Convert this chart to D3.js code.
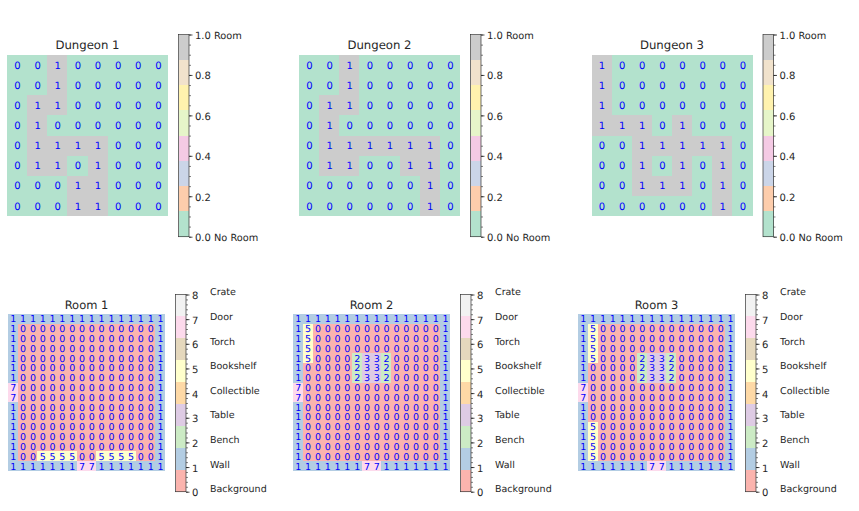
<!DOCTYPE html>
<html><head><meta charset="utf-8">
<script src="https://cdn.jsdelivr.net/npm/d3@7"></script>
<style>html,body{margin:0;padding:0;background:#fff}svg{display:block}text{font-family:"DejaVu Sans";fill:#262626;text-rendering:geometricPrecision}</style>
</head><body><div id="c"></div>
<script>
const dungeonTitles = ["Dungeon 1","Dungeon 2","Dungeon 3"];
const roomTitles = ["Room 1","Room 2","Room 3"];
const dungeon1 = ["00100000","00100000","01100000","01000000","01111000","01101000","00011000","00011000"];
const dungeon2 = ["00100000","00100000","01100000","01000000","01111110","01100110","00000010","00000010"];
const dungeon3 = ["10000000","10000000","10000000","11101000","00111110","00101010","00111010","00000010"];
const room1 = ["1111111111111111","1000000000000001","1000000000000001","1000000000000001","1000000000000001","1000000000000001","1000000000000001","7000000000000001","7000000000000001","1000000000000001","1000000000000001","1000000000000001","1000000000000001","1000000000000001","1005555005555001","1111111771111111"];
const room2 = ["1111111111111111","1500000000000001","1500000000000001","1500000000000001","1500002332000001","1000002332000001","1000002332000001","7000000000000001","7000000000000001","1000000000000001","1000000000000001","1000000000000001","1000000000000001","1000000000000001","1000000000000001","1111111771111111"];
const room3 = ["1111111111111111","1500000000000001","1500000000000001","1500000000000001","1500002332000001","1000002332000001","1000002332000001","7000000000000001","7000000000000001","1000000000000001","1000000000000001","1500000000000001","1500000000000001","1500000000000001","1500000000000001","1111111771111111"];
const dungeonColors = ["#b3e2cd","#fdcdac","#cbd5e8","#f4cae4","#e6f5c9","#fff2ae","#f1e2cc","#cccccc"];
const roomColors = ["#fbb4ae","#b3cde3","#ccebc5","#decbe4","#fed9a6","#ffffcc","#e5d8bd","#fddaec","#f2f2f2"];
const dungeonTicks = [0,0.2,0.4,0.6,0.8,1];
const dungeonMinor = d3.range(0,1.0001,0.05);
const dungeonLabels = [{v:0,t:"No Room"},{v:1,t:"Room"}];
const roomTicks = [0,1,2,3,4,5,6,7,8];
const roomMinor = d3.range(0,8.001,0.2);
const roomLabels = ["Background","Wall","Bench","Table","Collectible","Bookshelf","Torch","Door","Crate"];

const svg = d3.select("#c").append("svg").attr("width",859).attr("height",511);

function panel(o){
  const n = o.grid.length;
  const x = d3.scaleBand().domain(d3.range(n)).range([o.x, o.x+o.size]);
  const y = d3.scaleBand().domain(d3.range(n)).range([o.y, o.y+o.size]);
  const nc = o.colors.length;
  const g = svg.append("g");
  const cells = o.grid.flatMap((r,i)=>[...r].map((v,j)=>({i,j,v:+v})));
  g.selectAll("rect").data(cells).join("rect")
    .attr("x",d=>x(d.j)).attr("y",d=>y(d.i))
    .attr("width",x.bandwidth()).attr("height",y.bandwidth())
    .attr("fill",d=>o.cellColor(d.v)).attr("shape-rendering","crispEdges");
  g.selectAll("text.v").data(cells).join("text").attr("class","v")
    .attr("x",d=>x(d.j)+x.bandwidth()/2+0.4).attr("y",d=>y(d.i)+y.bandwidth()/2)
    .attr("text-anchor","middle").attr("dy","0.36em")
    .attr("font-size",o.cellFont).style("fill","#0000ff").text(d=>d.v);
  svg.append("text").attr("x",o.x+o.size/2).attr("y",o.y-o.titleGap)
    .attr("text-anchor","middle").attr("font-size",o.titleFont).text(o.title);
  // colorbar
  const cy = d3.scaleLinear().domain(o.cdomain).range([o.cb.y1,o.cb.y0]);
  const bands = d3.range(nc);
  const step = (o.cdomain[1]-o.cdomain[0])/nc;
  const cg = svg.append("g");
  cg.selectAll("rect").data(bands).join("rect")
    .attr("x",o.cb.x).attr("width",o.cb.w)
    .attr("y",i=>cy(o.cdomain[0]+(i+1)*step)).attr("height",i=>cy(o.cdomain[0]+i*step)-cy(o.cdomain[0]+(i+1)*step))
    .attr("fill",i=>o.colors[i]).attr("shape-rendering","crispEdges");
  const ax = d3.axisRight(cy).tickValues(o.ticks).tickSize(3.5).tickPadding(2.5).tickFormat(o.fmt);
  const axg = cg.append("g").attr("transform",`translate(${o.cb.x+o.cb.w},0)`).call(ax);
  axg.select(".domain").remove();
  axg.selectAll("line").attr("stroke","#000").attr("stroke-width",0.7);
  axg.selectAll("text").attr("font-size",10).style("fill","#262626").attr("dy","0.4em");
  const axm = d3.axisRight(cy).tickValues(o.minor).tickSize(2).tickFormat("");
  const amg = cg.append("g").attr("transform",`translate(${o.cb.x+o.cb.w},0)`).call(axm);
  amg.select(".domain").remove();
  amg.selectAll("line").attr("stroke","#000").attr("stroke-width",0.5);
  cg.append("rect").attr("x",o.cb.x).attr("y",o.cb.y0).attr("width",o.cb.w).attr("height",o.cb.y1-o.cb.y0)
    .attr("fill","none").attr("stroke","#333").attr("stroke-width",0.7);
  o.labels(cg,cy);
}

const dx = [7,299,591.5];
[dungeon1,dungeon2,dungeon3].forEach((grid,k)=>{
  const cbx = dx[k]+171.5;
  panel({grid,title:dungeonTitles[k],x:dx[k],y:55,size:161,cellFont:10,titleFont:11.7,titleGap:6,colors:dungeonColors,
    cellColor:v=>v?dungeonColors[7]:dungeonColors[0],cdomain:[0,1],ticks:dungeonTicks,minor:dungeonMinor,
    fmt:d3.format(".1f"),cb:{x:cbx,w:10.5,y0:34.5,y1:236.7},
    labels:(g,cy)=>g.selectAll("text.l").data(dungeonLabels).join("text").attr("class","l")
      .attr("x",cbx+35.5).attr("y",d=>cy(d.v)+0.7).attr("dy","0.34em").attr("font-size",9.8).text(d=>d.t)});
});
const rx = [8,293,578];
[room1,room2,room3].forEach((grid,k)=>{
  const cbx = rx[k]+167.5;
  panel({grid,title:roomTitles[k],x:rx[k],y:314,size:157,cellFont:9.5,titleFont:11.5,titleGap:5,colors:roomColors,
    cellColor:v=>roomColors[v],cdomain:[0,8],ticks:roomTicks,minor:roomMinor,
    fmt:d3.format("d"),cb:{x:cbx,w:10.5,y0:294.5,y1:491.7},
    labels:(g,cy)=>g.selectAll("text.l").data(roomLabels).join("text").attr("class","l")
      .attr("x",cbx+34.5).attr("y",(d,i)=>cy(i)-2.5).attr("dy","0.34em").attr("font-size",9.5).text(d=>d)});
});
</script></body></html>
